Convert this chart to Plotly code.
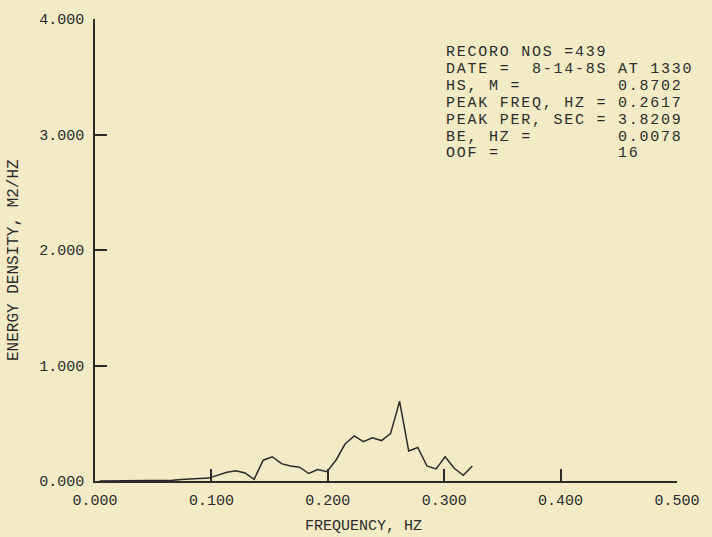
import plotly.graph_objects as go

# ---- data ----
freq_hz = [0.0039, 0.0117, 0.0195, 0.0273, 0.0352, 0.0430, 0.0508, 0.0586,
           0.0664, 0.0742, 0.0820, 0.0898, 0.0977, 0.1055, 0.1133, 0.1211,
           0.1289, 0.1367, 0.1445, 0.1523, 0.1602, 0.1680, 0.1758, 0.1836,
           0.1914, 0.1992, 0.2070, 0.2148, 0.2227, 0.2305, 0.2383, 0.2461,
           0.2539, 0.2617, 0.2695, 0.2773, 0.2852, 0.2930, 0.3008, 0.3086,
           0.3164, 0.3242]
energy_density = [0.0, 0.0, 0.0, 0.0, 0.0, 0.0, 0.001, 0.003,
                  0.006, 0.012, 0.020, 0.022, 0.025, 0.050, 0.075, 0.088,
                  0.070, 0.015, 0.180, 0.210, 0.150, 0.130, 0.120, 0.065,
                  0.100, 0.080, 0.180, 0.320, 0.390, 0.340, 0.375, 0.350,
                  0.410, 0.690, 0.260, 0.290, 0.130, 0.105, 0.210, 0.110,
                  0.050, 0.130]
x_ticks = [0.0, 0.1, 0.2, 0.3, 0.4, 0.5]
y_ticks = [0.0, 1.0, 2.0, 3.0, 4.0]
info_lines = [
    "RECORO NOS =439",
    "DATE =  8-14-8S AT 1330",
    "HS, M =         0.8702",
    "PEAK FREQ, HZ = 0.2617",
    "PEAK PER, SEC = 3.8209",
    "BE, HZ =        0.0078",
    "OOF =           16",
]

W, H = 712, 537
L, R, T, B = 95, 27, 13, 56
BG = "#f2ebc6"
INK = "#2b2b2b"
FONT = "Liberation Mono"

fig = go.Figure()
fig.add_trace(go.Scatter(x=freq_hz, y=energy_density, mode="lines",
                         line=dict(color=INK, width=1.5), showlegend=False,
                         hoverinfo="skip"))

axis_common = dict(showgrid=False, zeroline=False, showline=True,
                   linecolor=INK, linewidth=1.6, ticks="inside", ticklen=12,
                   tickwidth=1.5, tickcolor=INK, tickformat=".3f",
                   tickfont=dict(family=FONT, size=15, color=INK),
                   mirror=False)

fig.update_layout(
    width=W, height=H,
    margin=dict(l=L, r=R, t=T, b=B, pad=0),
    paper_bgcolor=BG, plot_bgcolor=BG,
    xaxis=dict(range=[0, 0.5], tickvals=x_ticks, ticklabelstandoff=4,
               **axis_common),
    yaxis=dict(range=[0, 4], tickvals=y_ticks, ticklabelstandoff=6,
               **axis_common),
)

plot_w = W - L - R
plot_h = H - T - B

def ax(p):  # pixel x -> paper
    return (p - L) / plot_w

def ay(p):  # pixel y -> paper
    return (H - B - p) / plot_h

annos = []
annos.append(dict(text="FREQUENCY, HZ", xref="paper", yref="paper",
                  x=ax(367), y=ay(527), xanchor="center", yanchor="middle",
                  showarrow=False, font=dict(family=FONT, size=15, color=INK)))
annos.append(dict(text="ENERGY DENSITY, M2/HZ", xref="paper", yref="paper",
                  x=ax(13), y=ay(257), xanchor="center", yanchor="middle",
                  textangle=-90, showarrow=False,
                  font=dict(family=FONT, size=16, color=INK)))
block = "<br>".join(
    "<span style='font-size:15px;letter-spacing:1.75px'>"
    + ln.replace(" ", "&nbsp;") + "</span>"
    for ln in info_lines)
annos.append(dict(text=block, xref="paper", yref="paper",
                  x=ax(449), y=ay(36), xanchor="left", yanchor="top",
                  align="left", showarrow=False,
                  font=dict(family=FONT, size=13, color=INK)))
fig.update_layout(annotations=annos)

fig.write_html("out.html")
